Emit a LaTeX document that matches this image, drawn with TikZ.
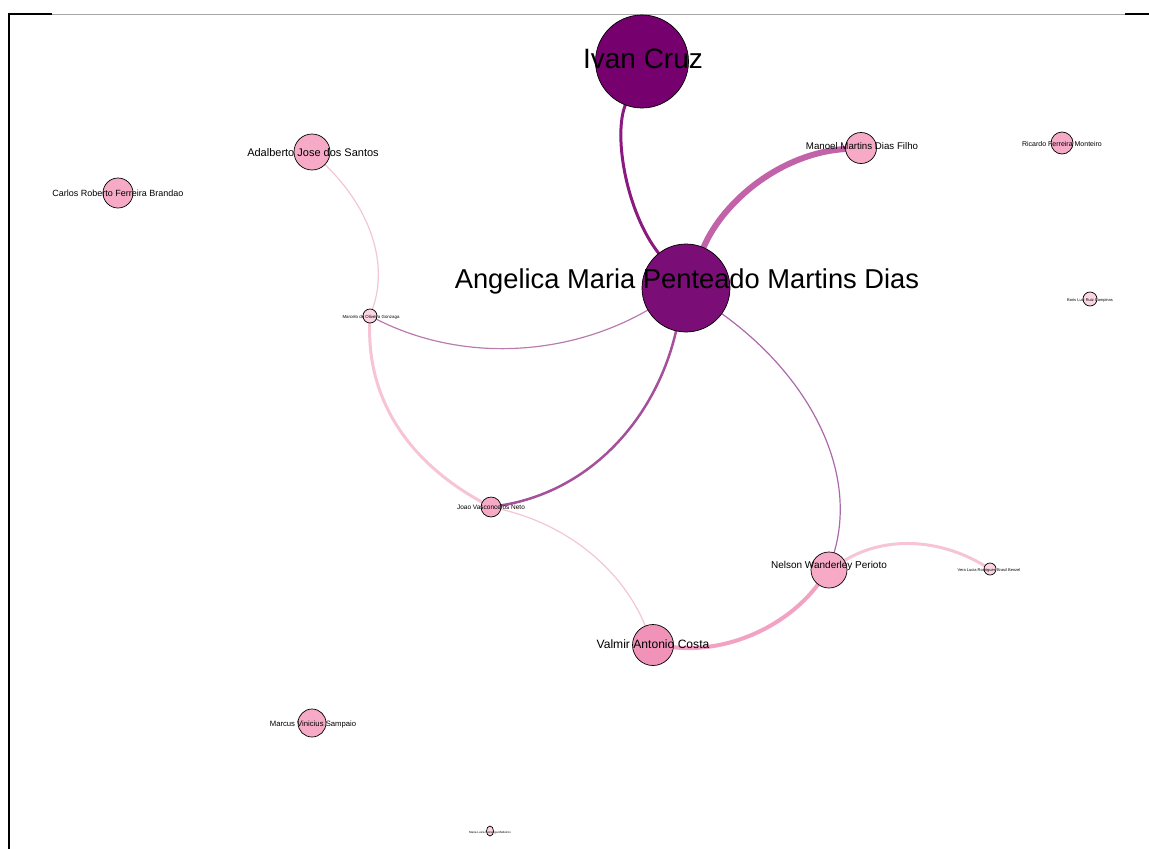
\documentclass[tikz,border=0pt]{standalone}
\usepackage{fontspec}
\setmainfont{Liberation Sans}
\usetikzlibrary{shapes.geometric}
\pgfdeclarelayer{background}
\pgfsetlayers{background,main}

% node fills
\definecolor{hubA}{HTML}{76006E}
\definecolor{hubB}{HTML}{7A0E76}
\definecolor{pinkmid}{HTML}{F6AAC6}
\definecolor{pinkdeep}{HTML}{F193B9}
\definecolor{pinkpale}{HTML}{FBD6E2}
% edge colours
\definecolor{eIvan}{HTML}{8A1A80}
\definecolor{eManoel}{HTML}{C262A8}
\definecolor{eMarcelo}{HTML}{BA7CAC}
\definecolor{eJoao}{HTML}{A4509A}
\definecolor{eNelson}{HTML}{AA6AAA}
\definecolor{ePaleA}{HTML}{F2C6D6}
\definecolor{ePaleB}{HTML}{F6C4D2}
\definecolor{ePink}{HTML}{F2A2C2}

\newcommand\lblsize[1]{\fontsize{#1pt}{#1pt}\selectfont}

\begin{document}
\begin{tikzpicture}[x=1pt,y=-1pt,
  vertex/.style={circle,draw=black,line width=0.7pt,inner sep=0pt,minimum size=#1},
  lbl/.style={anchor=base,inner sep=0pt,text=black},
  link/.style={line cap=round}]
\useasboundingbox (0,0) rectangle (1149,849);

% frame
\draw[line width=1.6pt] (9,849) -- (9,14) -- (52,14);
\draw[gray!70,line width=0.8pt] (52,14) -- (1125,14);
\draw[line width=1.6pt] (1125,14) -- (1149,14);

% vertices
\node[vertex=93pt,fill=hubA] (ivan) at (642,61.5) {};
\node[vertex=88pt,fill=hubB] (ang) at (686,288) {};
\node[vertex=31pt,fill=pinkmid] (manoel) at (861,148) {};
\node[vertex=22pt,fill=pinkmid] (ricardo) at (1062,143) {};
\node[vertex=36pt,fill=pinkmid] (adal) at (312,152) {};
\node[vertex=30pt,fill=pinkmid] (carlos) at (118,193) {};
\node[vertex=14pt,fill=pinkpale] (marcelo) at (370,316) {};
\node[vertex=14pt,fill=pinkpale] (boris) at (1090,299) {};
\node[vertex=20pt,fill=pinkmid] (joao) at (491,507) {};
\node[vertex=36pt,fill=pinkmid] (nelson) at (829,570) {};
\node[vertex=12pt,fill=pinkpale] (vera) at (990,569) {};
\node[vertex=41pt,fill=pinkdeep] (valmir) at (653,645) {};
\node[vertex=28pt,fill=pinkmid] (marcus) at (312,723) {};
\node[ellipse,draw=black,line width=0.7pt,inner sep=0pt,minimum width=7pt,minimum height=10pt,fill=pinkpale] (maria) at (490,831) {};

% links (curved, drawn behind the vertices)
\begin{pgfonlayer}{background}
\draw[link,eIvan,line width=3pt] (ivan) .. controls (613,137) and (627,213) .. (ang);
\draw[link,eManoel,line width=6pt] (ang) .. controls (724,200) and (782,153) .. (manoel);
\draw[link,eMarcelo,line width=1.2pt] (ang) .. controls (570,355) and (465,364) .. (marcelo);
\draw[link,eJoao,line width=2.5pt] (ang) .. controls (656,418) and (591,491) .. (joao);
\draw[link,eNelson,line width=1.2pt] (ang) .. controls (810,377) and (858,471) .. (nelson);
\draw[link,ePaleA,line width=1.2pt] (adal) .. controls (370,208) and (389,263) .. (marcelo);
\draw[link,ePaleB,line width=3pt] (marcelo) .. controls (367,398) and (407,461) .. (joao);
\draw[link,ePaleA,line width=1.2pt] (joao) .. controls (569,525) and (623,571) .. (valmir);
\draw[link,ePink,line width=4pt] (valmir) .. controls (726,653) and (785,628) .. (nelson);
\draw[link,ePaleB,line width=3pt] (nelson) .. controls (883,537) and (937,537) .. (vera);
\end{pgfonlayer}

% labels
\node[lbl,font=\lblsize{28}] (tIvan) at (643,68) {Ivan Cruz};
\node[lbl,font=\lblsize{27.3}] (tAng) at (687,288) {Angelica Maria Penteado Martins Dias};
\node[lbl,font=\lblsize{9.7}] (tManoel) at (862,149) {Manoel Martins Dias Filho};
\node[lbl,font=\lblsize{7}] (tRicardo) at (1062,146) {Ricardo Ferreira Monteiro};
\node[lbl,font=\lblsize{11}] (tAdal) at (313,156) {Adalberto Jose dos Santos};
\node[lbl,font=\lblsize{9}] (tCarlos) at (118,196) {Carlos Roberto Ferreira Brandao};
\node[lbl,font=\lblsize{4.4}] (tMarcelo) at (371,318) {Marcelo de Oliveira Gonzaga};
\node[lbl,font=\lblsize{4}] (tBoris) at (1090,301) {Boris Luiz Ruiz Campinas};
\node[lbl,font=\lblsize{6.5}] (tJoao) at (491,509) {Joao Vasconcelos Neto};
\node[lbl,font=\lblsize{10}] (tNelson) at (829,568) {Nelson Wanderley Perioto};
\node[lbl,font=\lblsize{4}] (tVera) at (989,571) {Vera Lucia Rodrigues Brasil Benzel};
\node[lbl,font=\lblsize{12.1}] (tValmir) at (653,648) {Valmir Antonio Costa};
\node[lbl,font=\lblsize{7.7}] (tMarcus) at (313,726) {Marcus Vinicius Sampaio};
\node[lbl,font=\lblsize{3}] (tMaria) at (490,833) {Maria Luiza Gonzaga Medeiros};
\end{tikzpicture}
\end{document}
